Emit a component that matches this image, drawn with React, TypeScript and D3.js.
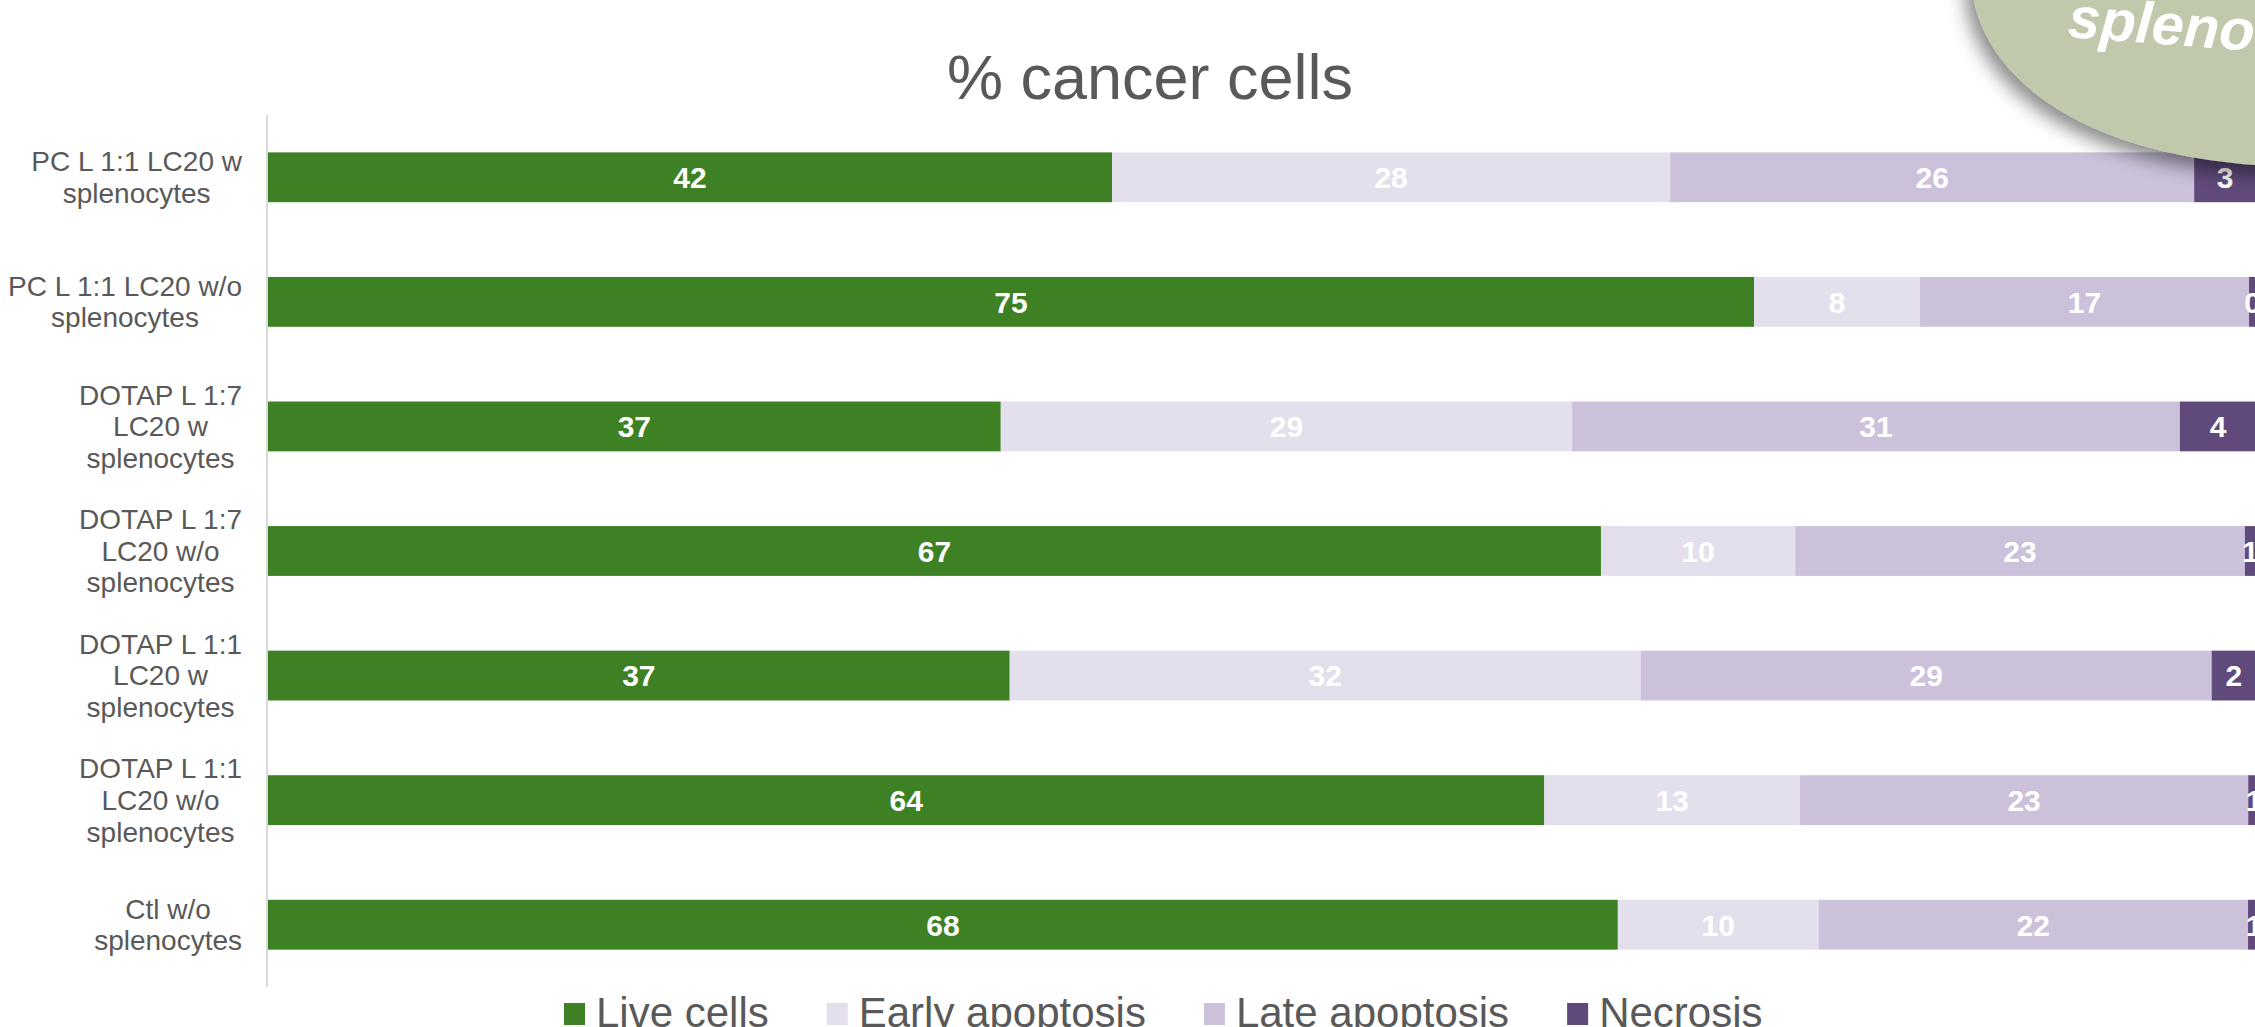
import React, { useEffect, useRef } from "react";
import * as d3 from "d3";

const categories = [
  "PC L 1:1 LC20 w\nsplenocytes",
  "PC L 1:1 LC20 w/o\nsplenocytes",
  "DOTAP L 1:7\nLC20 w\nsplenocytes",
  "DOTAP L 1:7\nLC20 w/o\nsplenocytes",
  "DOTAP L 1:1\nLC20 w\nsplenocytes",
  "DOTAP L 1:1\nLC20 w/o\nsplenocytes",
  "Ctl w/o\nsplenocytes",
];
const seriesNames = ["Live cells", "Early apoptosis", "Late apoptosis", "Necrosis"];
const liveCells = [42.46, 74.75, 36.86, 67.05, 37.31, 64.2, 67.9];
const earlyApoptosis = [28.07, 8.35, 28.74, 9.77, 31.74, 12.86, 10.1];
const lateApoptosis = [26.36, 16.55, 30.57, 22.62, 28.72, 22.55, 21.6];
const necrosis = [3.12, 0.35, 3.84, 0.55, 2.23, 0.6, 0.6];
const seriesColors = ["#3E8024", "#E4DFEC", "#CBC1DA", "#604A7B"];
const xDomain = [0, 100];
const title = "% cancer cells";
const blobText = "splenocytes";

const W = 2255;
const H = 1027;
const FONT = "'Liberation Sans', Arial, sans-serif";

export default function App() {
  const ref = useRef<SVGSVGElement>(null);

  useEffect(() => {
    const svg = d3.select(ref.current);
    svg.selectAll("*").remove();

    const rows = categories.map((c, i) => ({
      cat: c,
      "Live cells": liveCells[i],
      "Early apoptosis": earlyApoptosis[i],
      "Late apoptosis": lateApoptosis[i],
      Necrosis: necrosis[i],
    }));

    const x = d3.scaleLinear().domain(xDomain).range([268, 2256]);
    const y = d3
      .scaleBand<string>()
      .domain(categories)
      .range([115, 987])
      .paddingInner(0.6)
      .paddingOuter(0.3);
    const color = d3.scaleOrdinal<string, string>().domain(seriesNames).range(seriesColors);

    const stacked = d3.stack<any>().keys(seriesNames)(rows);

    const defs = svg.append("defs");
    const f = defs
      .append("filter")
      .attr("id", "shadow")
      .attr("x", "-30%")
      .attr("y", "-30%")
      .attr("width", "160%")
      .attr("height", "160%");
    f.append("feDropShadow")
      .attr("dx", -7)
      .attr("dy", 9)
      .attr("stdDeviation", 9)
      .attr("flood-color", "#000")
      .attr("flood-opacity", 0.45);

    // Title
    svg
      .append("text")
      .attr("x", 1150)
      .attr("y", 99)
      .attr("text-anchor", "middle")
      .attr("font-family", FONT)
      .attr("font-size", 63)
      .attr("fill", "#595959")
      .text(title);

    // Bars
    const g = svg.append("g");
    stacked.forEach((s) => {
      const key = s.key;
      g.append("g")
        .selectAll("rect")
        .data(s)
        .join("rect")
        .attr("x", (d) => x(d[0]))
        .attr("y", (d) => y(d.data.cat)!)
        .attr("width", (d) => Math.max(0, x(d[1]) - x(d[0])))
        .attr("height", y.bandwidth())
        .attr("fill", color(key));
    });

    // Data labels
    stacked.forEach((s) => {
      g.append("g")
        .selectAll("text")
        .data(s)
        .join("text")
        .attr("x", (d) => (x(d[0]) + x(d[1])) / 2)
        .attr("y", (d) => y(d.data.cat)! + y.bandwidth() / 2)
        .attr("dy", "0.36em")
        .attr("text-anchor", "middle")
        .attr("font-family", FONT)
        .attr("font-weight", "bold")
        .attr("font-size", 30)
        .attr("fill", "#FFFFFF")
        .text((d) => d3.format(".0f")(d[1] - d[0]));
    });

    // Axis line
    svg
      .append("line")
      .attr("x1", 267)
      .attr("x2", 267)
      .attr("y1", 115)
      .attr("y2", 987)
      .attr("stroke", "#D9D9D9")
      .attr("stroke-width", 2);

    // Category labels
    const lineH = 31.6;
    const labelRight = 242;
    categories.forEach((c) => {
      const lines = c.split("\n");
      const cy = y(c)! + y.bandwidth() / 2;
      const grp = svg.append("g");
      const texts = lines.map((ln, i) =>
        grp
          .append("text")
          .attr("y", cy + (i - (lines.length - 1) / 2) * lineH)
          .attr("dy", "0.35em")
          .attr("text-anchor", "middle")
          .attr("font-family", FONT)
          .attr("font-size", 28)
          .attr("fill", "#595959")
          .text(ln)
      );
      const widths = texts.map((t) => (t.node() as SVGTextElement).getComputedTextLength());
      const maxW = d3.max(widths) || 0;
      texts.forEach((t) => t.attr("x", labelRight - maxW / 2));
    });

    // Legend
    let lx = 564;
    seriesNames.forEach((name) => {
      svg
        .append("rect")
        .attr("x", lx)
        .attr("y", 1003)
        .attr("width", 21)
        .attr("height", 22)
        .attr("fill", color(name));
      const t = svg
        .append("text")
        .attr("x", lx + 32)
        .attr("y", 1027)
        .attr("font-family", FONT)
        .attr("font-size", 42)
        .attr("fill", "#595959")
        .text(name);
      const tw = (t.node() as SVGTextElement).getComputedTextLength();
      lx = lx + 32 + tw + 58;
    });

    // Decorative callout blob at top right
    svg
      .append("path")
      .attr(
        "d",
        "M1972,-40 C1962,60 2060,150 2255,165 C2280,167 2300,170 2320,172 L2320,-40 Z"
      )
      .attr("fill", "#C0C9AB")
      .attr("filter", "url(#shadow)");
    svg
      .append("text")
      .attr("x", 2067)
      .attr("y", 37)
      .attr("transform", "rotate(4.3 2067 37)")
      .attr("font-family", FONT)
      .attr("font-weight", "bold")
      .attr("font-style", "italic")
      .attr("font-size", 58)
      .attr("fill", "#FFFFFF")
      .text(blobText);
  }, []);

  return (
    <svg
      ref={ref}
      width={W}
      height={H}
      style={{ position: "absolute", left: 0, top: 0, background: "#FFFFFF" }}
    />
  );
}
